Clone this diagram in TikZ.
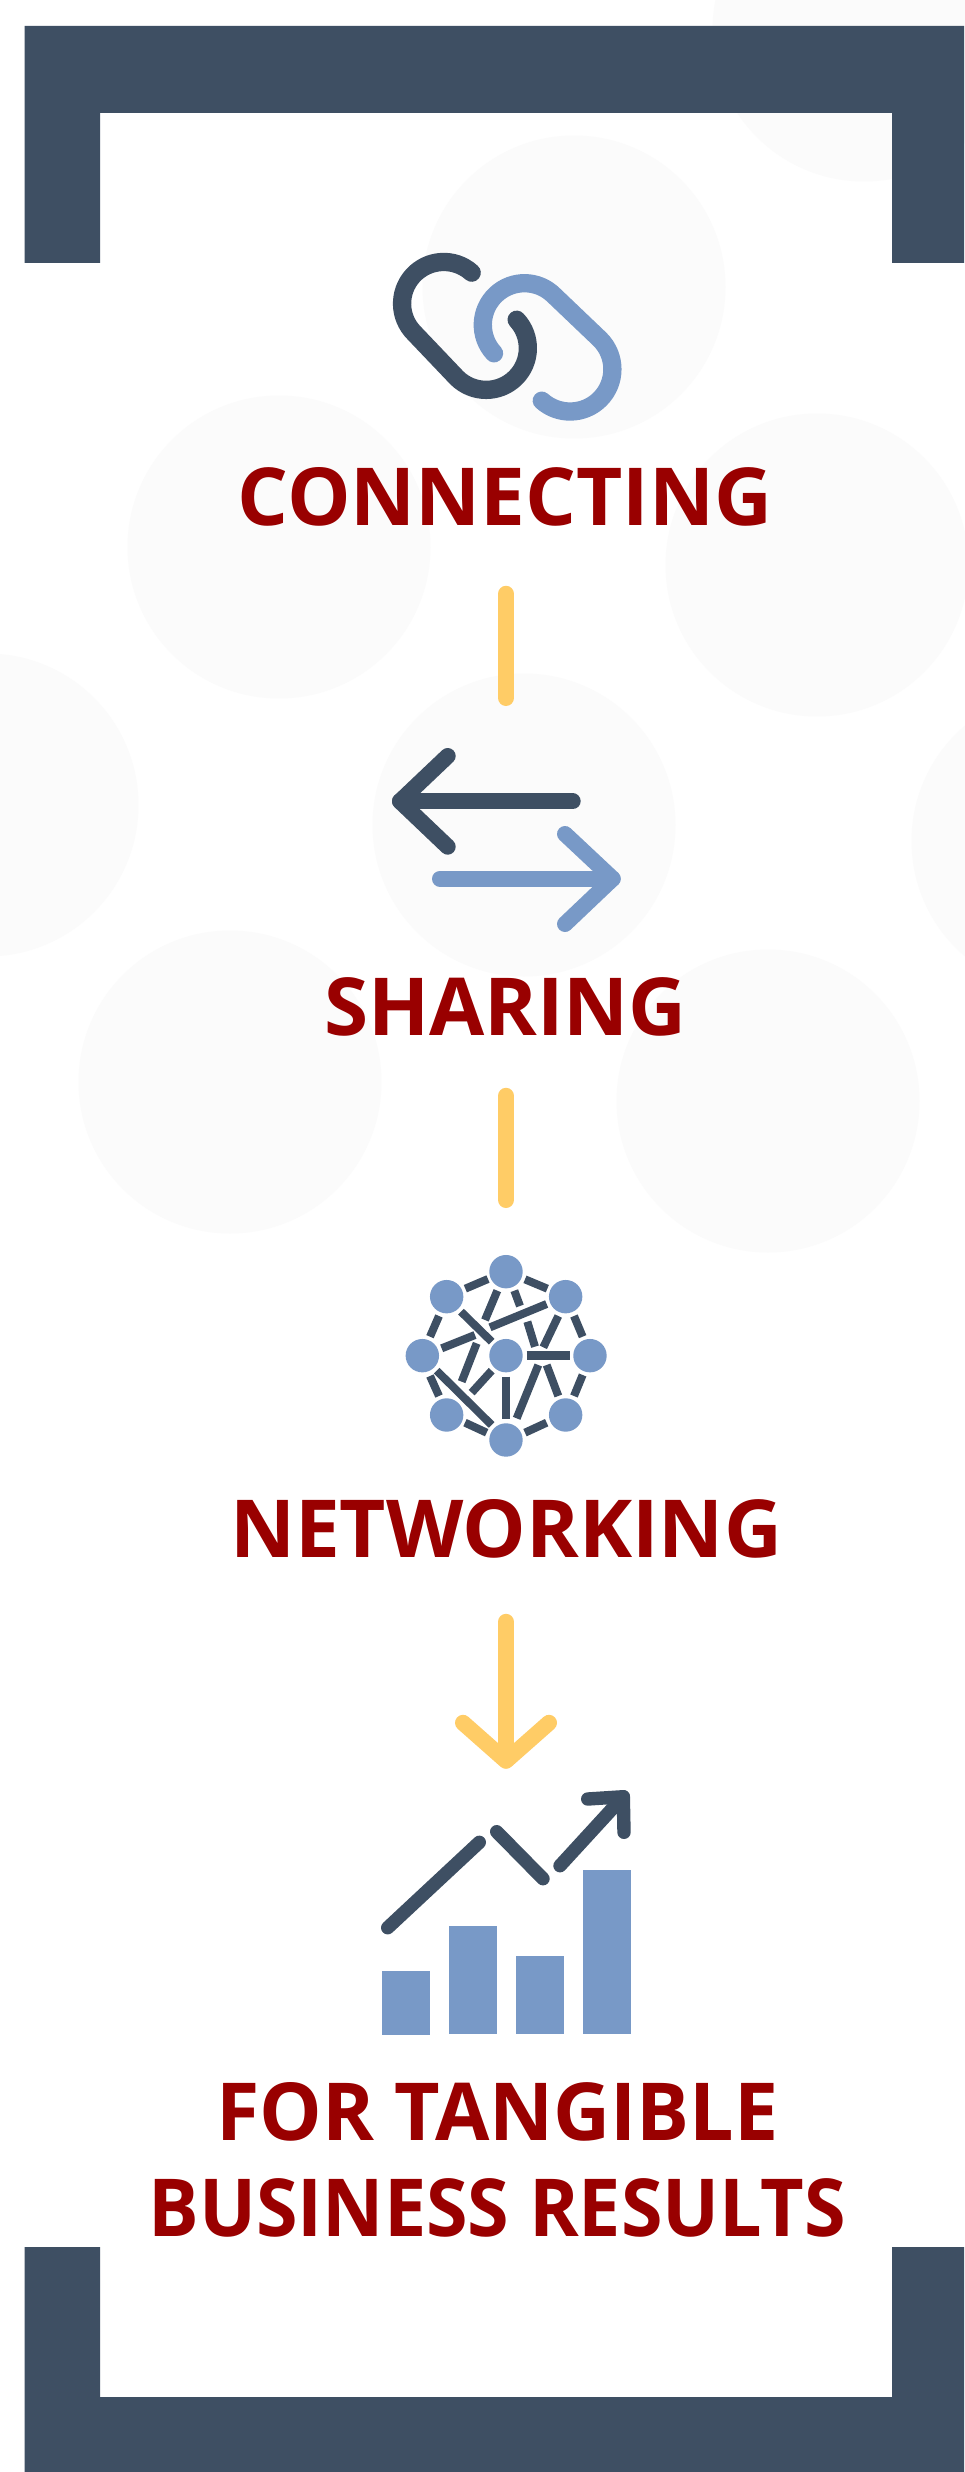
\documentclass[tikz,border=0pt]{standalone}
\usepackage{fontspec}
\usepackage{graphicx}
\setmainfont{Open Sans}
\usetikzlibrary{arrows.meta}
\definecolor{navy}{HTML}{3E4F63}
\definecolor{steel}{HTML}{7899C7}
\definecolor{amber}{HTML}{FFCC66}
\definecolor{maroon}{HTML}{990000}
\definecolor{ghost}{HTML}{FBFBFB}
\tikzset{
  ghostdisc/.style={fill=ghost,draw=none},
  frameband/.style={fill=navy,draw=none},
  heading/.style={text=maroon,inner sep=0pt,anchor=base,font=\bfseries\fontsize{80}{96}\selectfont},
  iconbox/.style={inner sep=0pt,draw=none},
  connector/.style={draw=amber,line width=16.4pt,line cap=round},
  darkstroke/.style={draw=navy,line width=16pt,line cap=round,line join=round},
  bluestroke/.style={draw=steel,line width=16pt,line cap=round,line join=round},
  linkdark/.style={draw=navy,line width=18.3pt,line cap=round,line join=round},
  linkblue/.style={draw=steel,line width=18.3pt,line cap=round,line join=round},
  hub/.style={circle,fill=steel,draw=none,minimum size=33.4pt,inner sep=0pt},
  spoke/.style={draw=navy,line width=8pt},
  chartbar/.style={fill=steel,draw=none},
  trend/.style={draw=navy,line width=13.4pt,line cap=round,line join=round},
}
\begin{document}
\begin{tikzpicture}[x=1pt,y=-1pt]
\useasboundingbox (0,0) rectangle (964,2472);
\fill[white] (0,0) rectangle (964,2472);
% background discs
\foreach \cx/\cy in {864/30,574/287,279/547,817/565,-13/805,524/825,1063/841,230/1082,768/1101}
  \fill[ghostdisc] (\cx,\cy) circle[radius=151.5];
% frame
\fill[frameband] (24.6,263) -- (24.6,26) -- (964,26) -- (964,263) -- (892,263) -- (892,113) -- (100,113) -- (100,263) -- cycle;
\fill[frameband] (24.6,2247) -- (24.6,2472) -- (964,2472) -- (964,2247) -- (892,2247) -- (892,2397) -- (100,2397) -- (100,2247) -- cycle;
% link icon
\draw[linkblue] (360+402/3,230+370/3) arc[start angle=-223,end angle=-45,radius=41.7]
   -- (360+720/3,230+328/3) arc[start angle=-45,end angle=132,radius=42.3];
\draw[linkdark] (360+335/3,230+128/3) arc[start angle=-48,end angle=-225,radius=41.7]
   -- (360+290/3,230+443/3) arc[start angle=-225,end angle=-403,radius=41.7];
% share icon
\draw[darkstroke] (572.7,801.3) -- (400,801.3);
\draw[darkstroke] (447.7,756) -- (400,801.3) -- (447.7,846.7);
\draw[bluestroke] (440,878.7) -- (612.7,878.7);
\draw[bluestroke] (565,834) -- (612.7,878.7) -- (565,924);
% network icon
\begin{scope}[shift={(390,1240)},x=0.3333pt,y=-0.3333pt]
\foreach \ax/\ay/\bx/\by in {
  226/146/294/117, 405/118/472/146, 147/228/120/290, 552/228/578/290,
  120/408/147/468, 578/405/552/468, 225/548/290/578, 405/578/470/548,
  322/152/285/240, 373/152/390/198, 412/245/435/320,
  470/192/300/262, 255/285/155/325, 213/215/305/305,
  505/228/460/322, 260/310/215/425, 305/392/245/458,
  140/392/305/555, 348/410/348/538, 445/375/380/535, 470/375/505/468}
  \draw[spoke] (\ax,\ay) -- (\bx,\by);
\draw[spoke,line width=8.6pt] (410,347) -- (540,347);
\foreach \nm/\nx/\ny in {top/348/95,tl/170/170,tr/527/170,lf/97/347,ctr/348/347,rt/600/347,bl/170/525,br/527/525,bt/348/600}
  \node[hub] (n\nm) at (\nx,\ny) {};
\end{scope}
% chart icon
\fill[chartbar] (382,1971) rectangle (430,2035);
\fill[chartbar] (449,1926) rectangle (497,2034);
\fill[chartbar] (516,1956) rectangle (564,2034);
\fill[chartbar] (583,1870) rectangle (631,2034);
\draw[trend] (387.7,1927.7) -- (479.3,1842.3);
\draw[trend] (496.7,1831.7) -- (543,1878.7);
\draw[trend] (560,1865.7) -- (623.3,1796.7);
\draw[trend] (587.7,1799) -- (623.3,1796.7) -- (624,1832.3);
% headings
\node[heading] (tconnect) at (505,525) {CONNECTING};
\node[heading] (tshare) at (505.5,1035) {SHARING};
\node[heading] (tnet) at (506,1557) {NETWORKING};
\node[heading,align=center,anchor=south] (tresult) at (497.3,2237) {\scalebox{0.985}[1]{FOR TANGIBLE}\\\scalebox{0.943}[1]{BUSINESS RESULTS}};
% invisible icon anchors
\node[iconbox,minimum width=240pt,minimum height=160pt] (ishare) at (506,840) {};
\node[iconbox,minimum width=200pt,minimum height=200pt] (inet) at (506,1355) {};
\node[iconbox,minimum width=250pt,minimum height=240pt] (ichart) at (506,1915) {};
% connectors
\draw[connector] ([xshift=1pt,yshift=-68pt]tconnect.south) -- ([yshift=62pt]ishare.north);
\draw[connector] ([xshift=0.5pt,yshift=-60pt]tshare.south) -- ([yshift=55pt]inet.north);
\draw[connector,-{Straight Barb[round,length=38pt,width=86pt,line width=16pt]}] ([yshift=-64pt]tnet.south) -- ([yshift=26pt]ichart.north);
\end{tikzpicture}
\end{document}
